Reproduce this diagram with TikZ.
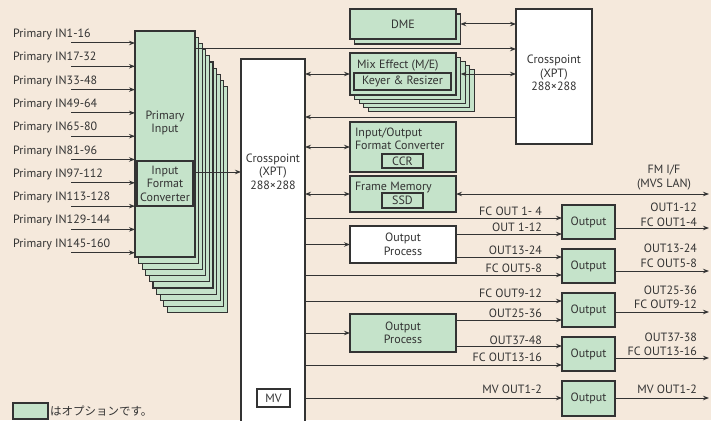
\documentclass[tikz,border=0pt]{standalone}
\usepackage{fontspec}
\setmainfont{PT Sans}
\newfontfamily\jpfont{Noto Sans CJK JP}
\usetikzlibrary{arrows.meta}
\definecolor{bgc}{HTML}{F5E9DC}
\definecolor{optc}{HTML}{C5E3CA}
\definecolor{linec}{HTML}{333333}
\begin{document}
\begin{tikzpicture}[x=1pt,y=-1pt,
  every node/.style={font=\fontsize{12}{13.5}\selectfont, text=linec, inner sep=0pt, outer sep=0pt},
  box/.style={draw=linec, line width=1.2pt, fill=optc},
  wbox/.style={draw=linec, line width=1.2pt, fill=white},
  wire/.style={draw=linec, line width=1pt},
  arr/.style={wire, -{Stealth[length=6pt,width=4.5pt]}},
  darr/.style={wire, {Stealth[length=6pt,width=4.5pt]}-{Stealth[length=6pt,width=4.5pt]}},
  lblr/.style={anchor=base east},
  lbll/.style={anchor=base west},
]
\useasboundingbox (0,0) rectangle (711,420);
\fill[bgc] (0,0) rectangle (711,420);
\clip (0,0) rectangle (711,420);

% ---------- Primary input stack ----------
\foreach \i in {9,8,...,1}
  \node[box, minimum width=60pt, minimum height=226pt] (pinL\i) at ({165+3.6*\i},{144+6.2*\i}) {};
\node[box, minimum width=60pt, minimum height=226pt] (pin) at (165,144) {};
\node[align=center] (pinlab) at (165,123) {Primary\\Input};
\node[box, minimum width=56pt, minimum height=45pt, align=center] (ifc) at (165,183.5) {Input\\Format\\Converter};

\foreach \lab [count=\k from 0] in {1-16,17-32,33-48,49-64,65-80,81-96,97-112,113-128,129-144,145-160} {
  \pgfmathsetmacro{\yy}{43+23.3*\k}
  \coordinate (in\k) at (71,\yy);
  \node[lbll] (inl\k) at (13,\yy-5.5) {Primary IN\lab};
  \draw[arr] (in\k) -- (pin.west |- in\k);
}

% ---------- Center crosspoint ----------
\node[wbox, minimum width=64pt, minimum height=375pt] (xpt) at (273,246.5) {};
\node[align=center] (xptlab) at (273,171.5) {Crosspoint\\(XPT)\\288\texttimes288};
\node[wbox, minimum width=33pt, minimum height=18pt] (mv) at (273.5,398) {MV};

% ---------- Right crosspoint ----------
\node[wbox, minimum width=76pt, minimum height=135pt] (xpt2) at (554,76.5) {};
\node[align=center] (xpt2lab) at (554,73) {Crosspoint\\(XPT)\\288\texttimes288};

% ---------- DME ----------
\node[box, minimum width=106pt, minimum height=30pt] (dmeS) at (407.3,29) {};
\node[box, minimum width=106pt, minimum height=30pt] (dme) at (403,24) {DME};

% ---------- Mix Effect ----------
\foreach \i in {4,3,2,1}
  \node[box, minimum width=106pt, minimum height=42pt] (meL\i) at ({403+4.6*\i},{74+4.2*\i}) {};
\node[box, minimum width=106pt, minimum height=42pt] (me) at (403,74) {};
\node[anchor=base west] (melab) at (357,68.5) {Mix Effect (M/E)};
\node[box, minimum width=97pt, minimum height=17pt] (keyer) at (402.5,81.5) {Keyer \& Resizer};

% ---------- I/O Format Converter ----------
\node[box, minimum width=106pt, minimum height=50pt] (iofc) at (403,147) {};
\node[anchor=base west, align=left] (iofclab) at (355,136.5) {Input/Output};
\node[anchor=base west] (iofclab2) at (355,149.5) {Format Converter};
\node[box, minimum width=41pt, minimum height=14pt] (ccr) at (402.5,161) {CCR};

% ---------- Frame Memory ----------
\node[box, minimum width=106pt, minimum height=36pt] (fm) at (403,194) {};
\node[anchor=base west] (fmlab) at (355,190.5) {Frame Memory};
\node[box, minimum width=41pt, minimum height=15pt] (ssd) at (402.5,200.5) {SSD};

% ---------- Output processes ----------
\node[wbox, minimum width=106pt, minimum height=37pt, align=center] (op1) at (403,244.5) {Output\\Process};
\node[box, minimum width=106pt, minimum height=38pt, align=center] (op2) at (403,333) {Output\\Process};

% ---------- Output boxes ----------
\node[box, minimum width=53pt, minimum height=34pt] (out1) at (588.5,222) {Output};
\node[box, minimum width=53pt, minimum height=34pt] (out2) at (588.5,266) {Output};
\node[box, minimum width=53pt, minimum height=34pt] (out3) at (588.5,310) {Output};
\node[box, minimum width=53pt, minimum height=34pt] (out4) at (588.5,354) {Output};
\node[box, minimum width=53pt, minimum height=35pt] (out5) at (588.5,398.5) {Output};

% ---------- Connectors ----------
\draw[arr] (pin.east |- 0,49) -- (xpt2.west |- 0,49);
\draw[arr] (pin.east |- 0,172) -- (xpt.west |- 0,172);
\draw[darr] (dmeS.east |- dme.east) -- (xpt2.west |- dme.east);
\draw[darr] (meL1.east |- me.east) -- (xpt2.west |- me.east);
\draw[arr] (xpt2.west |- 0,117) -- (xpt.east |- 0,117);
\draw[darr] (xpt.east |- me.west) -- (me.west);
\draw[darr] (xpt.east |- iofc.west) -- (iofc.west);
\draw[darr] (xpt.east |- fm.west) -- (fm.west);
\coordinate (fmif) at (709,194);
\draw[darr] (fm.east) -- (fmif);
\node[align=center] (fmiflab) at (664,177.5) {FM I/F\\(MVS LAN)};

\draw[arr] (xpt.east |- op1.west) -- (op1.west);
\draw[arr] (xpt.east |- op2.west) -- (op2.west);

\draw[arr] (xpt.east |- 0,218) -- (out1.west |- 0,218);
\draw[arr] (op1.east |- 0,234) -- (out1.west |- 0,234);
\draw[arr] (op1.east |- 0,257) -- (out2.west |- 0,257);
\draw[arr] (xpt.east |- 0,275) -- (out2.west |- 0,275);
\draw[arr] (xpt.east |- 0,301) -- (out3.west |- 0,301);
\draw[arr] (op2.east |- 0,320) -- (out3.west |- 0,320);
\draw[arr] (op2.east |- 0,346) -- (out4.west |- 0,346);
\draw[arr] (xpt.east |- 0,365) -- (out4.west |- 0,365);
\draw[arr] (xpt.east |- 0,398) -- (out5.west |- 0,398);

\node[lblr] at (542,215.5) {FC OUT 1- 4};
\node[lblr] at (542,231.5) {OUT 1-12};
\node[lblr] at (542,254.5) {OUT13-24};
\node[lblr] at (542,272.5) {FC OUT5-8};
\node[lblr] at (542,297.5) {FC OUT9-12};
\node[lblr] at (542,317.5) {OUT25-36};
\node[lblr] at (542,344.5) {OUT37-48};
\node[lblr] at (542,361.5) {FC OUT13-16};
\node[lblr] at (542,393.5) {MV OUT1-2};

\coordinate (o1) at (709,228);
\coordinate (o2) at (709,271);
\coordinate (o3) at (709,312);
\coordinate (o4) at (709,358);
\coordinate (o5) at (709,398);
\draw[arr] (out1.east |- o1) -- (o1);
\draw[arr] (out2.east |- o2) -- (o2);
\draw[arr] (out3.east |- o3) -- (o3);
\draw[arr] (out4.east |- o4) -- (o4);
\draw[arr] (out5.east |- o5) -- (o5);

\node[lblr] at (697,211.5) {OUT1-12};
\node[lblr] at (697,226.5) {FC OUT1-4};
\node[lblr] at (697,252.5) {OUT13-24};
\node[lblr] at (697,267.5) {FC OUT5-8};
\node[lblr] at (697,294.5) {OUT25-36};
\node[lblr] at (697,308.5) {FC OUT9-12};
\node[lblr] at (697,341.5) {OUT37-38};
\node[lblr] at (697,355.5) {FC OUT13-16};
\node[lblr] at (697,393.5) {MV OUT1-2};

% ---------- Legend ----------
\node[box, minimum width=35pt, minimum height=16pt] (leg) at (30.5,411) {};
\node[anchor=west, font=\jpfont\fontsize{11.5}{12}\selectfont] (legtxt) at ([xshift=2pt]leg.east) {はオプションです。};
\end{tikzpicture}
\end{document}
